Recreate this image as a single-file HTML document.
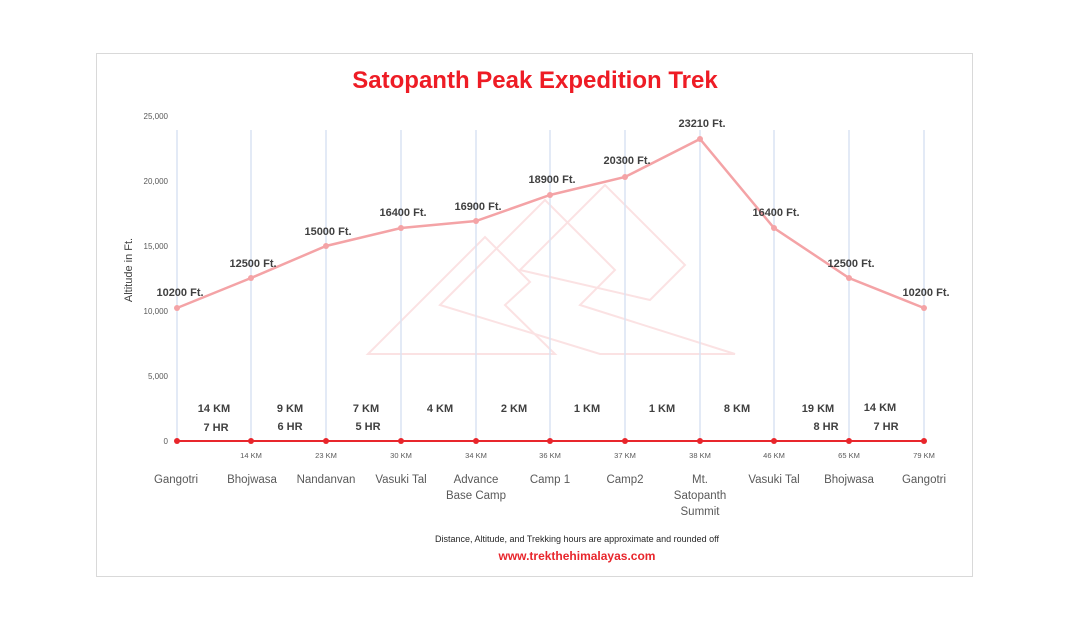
<!DOCTYPE html>
<html><head><meta charset="utf-8"><style>
body{margin:0;background:#fff;width:1067px;height:633px;overflow:hidden}
svg text{font-family:"Liberation Sans",sans-serif}
</style></head><body>
<svg width="1067" height="633" viewBox="0 0 1067 633">
<rect x="96.5" y="53.5" width="876" height="523" fill="#fff" stroke="#d9d9d9"/>
<text x="535" y="88" text-anchor="middle" font-size="24" font-weight="bold" fill="#ee1c25">Satopanth Peak Expedition Trek</text>
<g fill="none" stroke="#fbe2e3" stroke-width="2">
<polygon points="368,354 485,237 530,282 505,305 555,354"/>
<polygon points="440,305 545,200 615,270 580,305 735,354 600,354"/>
<polygon points="520,270 605,185 685,265 650,300"/>
</g>
<g font-size="8" fill="#595959" text-anchor="end">
<text x="168" y="119">25,000</text><text x="168" y="184">20,000</text><text x="168" y="249">15,000</text><text x="168" y="314">10,000</text><text x="168" y="379">5,000</text><text x="168" y="444">0</text>
</g>
<text transform="translate(132,270) rotate(-90)" text-anchor="middle" font-size="11" fill="#404040">Altitude in Ft.</text>
<g stroke="#dae3f3" stroke-width="1.5">
<line x1="177" y1="130" x2="177" y2="441"/><line x1="251" y1="130" x2="251" y2="441"/><line x1="326" y1="130" x2="326" y2="441"/><line x1="401" y1="130" x2="401" y2="441"/><line x1="476" y1="130" x2="476" y2="441"/><line x1="550" y1="130" x2="550" y2="441"/><line x1="625" y1="130" x2="625" y2="441"/><line x1="700" y1="130" x2="700" y2="441"/><line x1="774" y1="130" x2="774" y2="441"/><line x1="849" y1="130" x2="849" y2="441"/><line x1="924" y1="130" x2="924" y2="441"/>
</g>
<polyline fill="none" stroke="#f4a3a6" stroke-width="2.5" points="177,308 251,278 326,246 401,228 476,221 550,195 625,177 700,139 774,228 849,278 924,308"/>
<g fill="#f4a3a6">
<circle cx="177" cy="308" r="3"/><circle cx="251" cy="278" r="3"/><circle cx="326" cy="246" r="3"/><circle cx="401" cy="228" r="3"/><circle cx="476" cy="221" r="3"/><circle cx="550" cy="195" r="3"/><circle cx="625" cy="177" r="3"/><circle cx="700" cy="139" r="3"/><circle cx="774" cy="228" r="3"/><circle cx="849" cy="278" r="3"/><circle cx="924" cy="308" r="3"/>
</g>
<g font-size="11" font-weight="bold" fill="#404040" text-anchor="middle">
<text x="180" y="296">10200 Ft.</text><text x="253" y="267">12500 Ft.</text><text x="328" y="235">15000 Ft.</text><text x="403" y="216">16400 Ft.</text><text x="478" y="210">16900 Ft.</text><text x="552" y="183">18900 Ft.</text><text x="627" y="164">20300 Ft.</text><text x="702" y="127">23210 Ft.</text><text x="776" y="216">16400 Ft.</text><text x="851" y="267">12500 Ft.</text><text x="926" y="296">10200 Ft.</text>
</g>
<line x1="177" y1="441" x2="924" y2="441" stroke="#e8262c" stroke-width="2"/>
<g fill="#e8262c">
<circle cx="177" cy="441" r="3"/><circle cx="251" cy="441" r="3"/><circle cx="326" cy="441" r="3"/><circle cx="401" cy="441" r="3"/><circle cx="476" cy="441" r="3"/><circle cx="550" cy="441" r="3"/><circle cx="625" cy="441" r="3"/><circle cx="700" cy="441" r="3"/><circle cx="774" cy="441" r="3"/><circle cx="849" cy="441" r="3"/><circle cx="924" cy="441" r="3"/>
</g>
<g font-size="11" font-weight="bold" fill="#404040" text-anchor="middle">
<text x="214" y="412">14 KM</text><text x="216" y="431">7 HR</text>
<text x="290" y="412">9 KM</text><text x="290" y="430">6 HR</text>
<text x="366" y="412">7 KM</text><text x="368" y="430">5 HR</text>
<text x="440" y="412">4 KM</text><text x="514" y="412">2 KM</text><text x="587" y="412">1 KM</text><text x="662" y="412">1 KM</text><text x="737" y="412">8 KM</text>
<text x="818" y="412">19 KM</text><text x="826" y="430">8 HR</text>
<text x="880" y="411">14 KM</text><text x="886" y="430">7 HR</text>
</g>
<g font-size="7.5" fill="#595959" text-anchor="middle">
<text x="251" y="458">14 KM</text><text x="326" y="458">23 KM</text><text x="401" y="458">30 KM</text><text x="476" y="458">34 KM</text><text x="550" y="458">36 KM</text><text x="625" y="458">37 KM</text><text x="700" y="458">38 KM</text><text x="774" y="458">46 KM</text><text x="849" y="458">65 KM</text><text x="924" y="458">79 KM</text>
</g>
<g font-size="11.5" fill="#595959" text-anchor="middle">
<text x="176" y="483">Gangotri</text><text x="252" y="483">Bhojwasa</text><text x="326" y="483">Nandanvan</text><text x="401" y="483">Vasuki Tal</text>
<text x="476" y="483">Advance</text><text x="476" y="499">Base Camp</text>
<text x="550" y="483">Camp 1</text><text x="625" y="483">Camp2</text>
<text x="700" y="483">Mt.</text><text x="700" y="499">Satopanth</text><text x="700" y="515">Summit</text>
<text x="774" y="483">Vasuki Tal</text><text x="849" y="483">Bhojwasa</text><text x="924" y="483">Gangotri</text>
</g>
<text x="577" y="542" text-anchor="middle" font-size="9" fill="#262626">Distance, Altitude, and Trekking hours are approximate and rounded off</text>
<text x="577" y="560" text-anchor="middle" font-size="12" font-weight="bold" fill="#e8262c">www.trekthehimalayas.com</text>
</svg>
</body></html>
